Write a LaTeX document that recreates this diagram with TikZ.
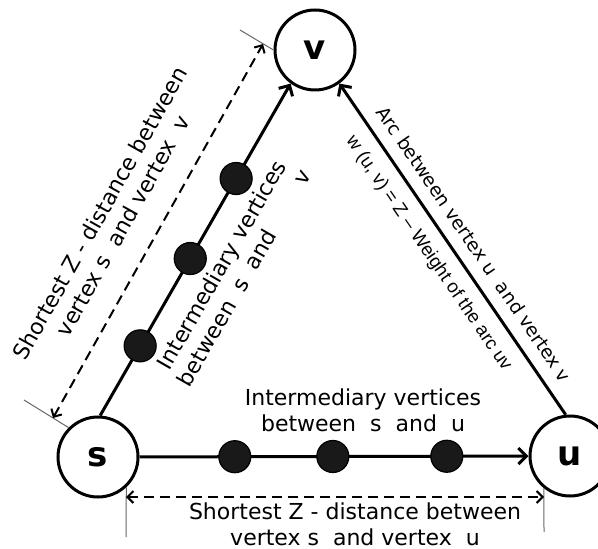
\documentclass[tikz,border=0pt]{standalone}
\usepackage{fontspec}
\setmainfont{DejaVu Sans}
\newfontfamily\narrowfont{Liberation Sans}
\usepackage{tikz}
\usetikzlibrary{arrows.meta, calc}

\begin{document}
\begin{tikzpicture}[x=0.5pt, y=-0.5pt,
    vertex/.style={circle, draw, line width=1.5pt, minimum size=40pt, inner sep=0pt,
        font=\fontsize{17}{20}\selectfont\bfseries},
    dot/.style={circle, draw, fill=black!90, line width=0.6pt, minimum size=16pt, inner sep=0pt},
    arcline/.style={line width=1.5pt, -{Straight Barb[length=4pt, width=8pt]}},
    dist/.style={line width=1pt, dash pattern=on 5pt off 3pt,
        {Straight Barb[length=3pt, width=6pt]}-{Straight Barb[length=3pt, width=6pt]}},
    tick/.style={black!60, line width=0.5pt},
    lbl/.style={align=center, inner sep=0pt, font=\fontsize{11}{13}\selectfont},
    slbl/.style={inner sep=0pt, font=\fontsize{9.3}{11}\selectfont}]
    % --- cadre de la figure
    \useasboundingbox (0,0) rectangle (598,549);

    % --- les trois sommets
    \node[vertex] (s) at (98,457) {s};
    \node[vertex] (v) at (315,50) {v};
    \node[vertex] (u) at (570,456) {u};

    % --- chemin s -> u avec sommets intermediaires
    \draw[arcline] (s) -- (u)
        node[dot, pos=.245] (su1) {}
        node[dot, pos=.497] (su2) {}
        node[dot, pos=.79] (su3) {};
    \node[lbl] (txtsu) at (363,410) {Intermediary vertices\\between\ \ s\ \ and\ \ u};

    % --- chemin s -> v avec sommets intermediaires
    \draw[arcline] (s.87) -- (v.234)
        node[dot, pos=.21] (sv1) {}
        node[dot, pos=.473] (sv2) {}
        node[dot, pos=.714] (sv3) {}
        node[lbl, sloped, pos=.5, below=10pt] (txtsv) {Intermediary vertices\\between\ \ s\ \ and\hspace{2.6em}v};

    % --- arc u -> v
    \draw[arcline] (u.96) -- (v.306)
        node[slbl, sloped, pos=.48, above=6pt] (txtarc) {Arc between vertex u\ \ and\ vertex v}
        node[slbl, sloped, pos=.525, below=6pt] (txtw) {\narrowfont w (u, v) = Z – Weight of the arc uv};

    % --- distance s - u
    \coordinate (tsu1) at (126,537);
    \coordinate (tsu2) at (544,532);
    \draw[tick] (s.-47) -- (tsu1);
    \draw[tick] (u.231) -- (tsu2);
    \coordinate (dsu1) at (126,497);
    \coordinate (dsu2) at (544,497);
    \draw[dist] (dsu1) -- (dsu2);
    \node[lbl] (txtdsu) at (355,524) {Shortest Z - distance between\\vertex s\ \ and vertex\ \ u};

    % --- distance s - v
    \coordinate (tsv1) at (24,400);
    \coordinate (tsv2) at (240,30);
    \draw[tick] (s.135) -- (tsv1);
    \draw[tick] (v.180) -- (tsv2);
    \coordinate (dsv1) at (53,418);
    \coordinate (dsv2) at (263,44);
    \draw[dist] (dsv1) -- (dsv2)
        node[lbl, sloped, pos=.47, above=12pt] (txtdsv) {Shortest Z - distance between\\vertex s\ \ and vertex\ \ v};
\end{tikzpicture}
\end{document}
